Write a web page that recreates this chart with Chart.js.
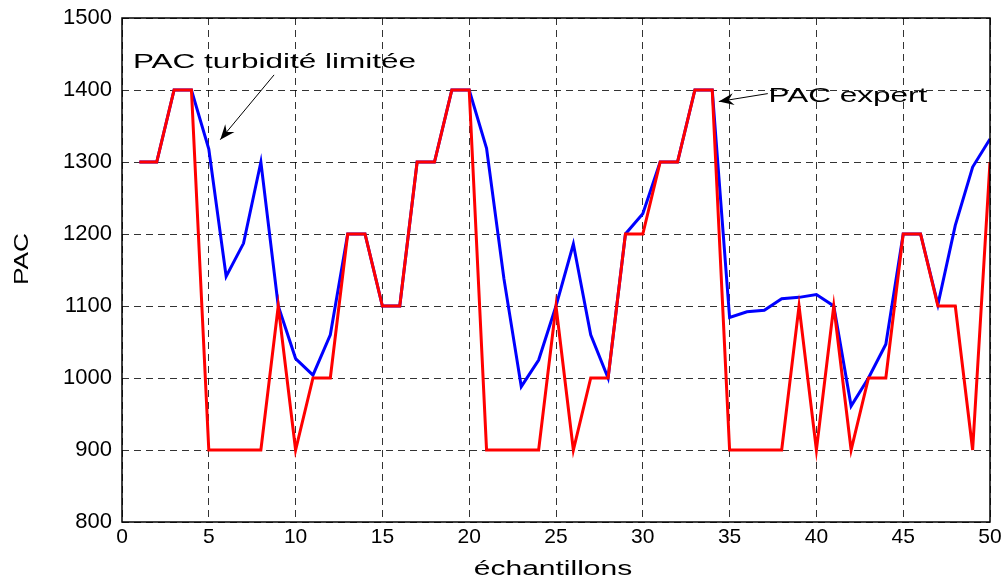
<!DOCTYPE html>
<html>
<head>
<meta charset="utf-8">
<script src="https://cdn.jsdelivr.net/npm/chart.js@4.4.1/dist/chart.umd.min.js"></script>
<style>
  html, body { margin: 0; padding: 0; background: #fff; }
</style>
</head>
<body>
<canvas id="pacchart" width="1007" height="579"></canvas>
<script>
// données
const samples = [1, 2, 3, 4, 5, 6, 7, 8, 9, 10, 11, 12, 13, 14, 15, 16, 17, 18, 19, 20,
  21, 22, 23, 24, 25, 26, 27, 28, 29, 30, 31, 32, 33, 34, 35, 36, 37, 38, 39, 40,
  41, 42, 43, 44, 45, 46, 47, 48, 49, 50];

const pacTurbidite = [1300, 1300, 1400, 1400, 1318, 1141, 1187, 1300, 1100, 1027,
  1004, 1060, 1200, 1200, 1100, 1100, 1300, 1300, 1400, 1400,
  1319, 1138, 988, 1025, 1100, 1186, 1060, 1000, 1200, 1228,
  1300, 1300, 1400, 1400, 1084, 1092, 1094, 1110, 1112, 1116,
  1100, 961, 1000, 1047, 1200, 1200, 1102, 1212, 1293, 1332];

const pacExpert = [1300, 1300, 1400, 1400, 900, 900, 900, 900, 1100, 900,
  1000, 1000, 1200, 1200, 1100, 1100, 1300, 1300, 1400, 1400,
  900, 900, 900, 900, 1100, 900, 1000, 1000, 1200, 1200,
  1300, 1300, 1400, 1400, 900, 900, 900, 900, 1100, 900,
  1100, 900, 1000, 1000, 1200, 1200, 1100, 1100, 900, 1300];

const xTicks = [0, 5, 10, 15, 20, 25, 30, 35, 40, 45, 50];
const yTicks = [800, 900, 1000, 1100, 1200, 1300, 1400, 1500];

// annotations (texte + flèche), en coordonnées des axes
const notes = [
  { text: "PAC turbidité limitée", at: [0.63, 1431], from: [8.76, 1421], to: [5.66, 1331] },
  { text: "PAC expert", at: [37.24, 1384], from: [37.2, 1395], to: [34.38, 1384] },
];

const FONT = "Arial, 'Liberation Sans', sans-serif";

function toPoints(ys) {
  return samples.map((x, i) => ({ x: x, y: ys[i] }));
}

// texte étiré horizontalement (la figure d'origine est élargie)
function wideText(ctx, text, x, y, size, sx, align, angle) {
  ctx.save();
  ctx.translate(x, y);
  if (angle) ctx.rotate(angle);
  ctx.scale(sx, 1);
  ctx.font = size + "px " + FONT;
  ctx.fillStyle = "#000";
  ctx.textAlign = align;
  ctx.textBaseline = "alphabetic";
  ctx.fillText(text, 0, 0);
  ctx.restore();
}

function arrow(ctx, x1, y1, x2, y2) {
  ctx.save();
  ctx.strokeStyle = "#000";
  ctx.fillStyle = "#000";
  ctx.lineWidth = 1;
  ctx.beginPath();
  ctx.moveTo(x1, y1);
  ctx.lineTo(x2, y2);
  ctx.stroke();
  const a = Math.atan2(y2 - y1, x2 - x1);
  ctx.translate(x2, y2);
  ctx.rotate(a);
  ctx.beginPath();
  ctx.moveTo(0, 0);
  ctx.lineTo(-15, -6);
  ctx.lineTo(-10, 0);
  ctx.lineTo(-15, 6);
  ctx.closePath();
  ctx.fill();
  ctx.restore();
}

const matlabLook = {
  id: "matlabLook",
  afterDraw(chart) {
    const ctx = chart.ctx;
    const area = chart.chartArea;
    const xs = chart.scales.x, ys = chart.scales.y;

    // cadre
    ctx.save();
    ctx.strokeStyle = "#000";
    ctx.lineWidth = 1.5;
    ctx.strokeRect(area.left, area.top, area.right - area.left, area.bottom - area.top);
    ctx.restore();

    notes.forEach(n => {
      wideText(ctx, n.text, xs.getPixelForValue(n.at[0]), ys.getPixelForValue(n.at[1]), 21, 1.5, "left");
      arrow(ctx, xs.getPixelForValue(n.from[0]), ys.getPixelForValue(n.from[1]),
        xs.getPixelForValue(n.to[0]), ys.getPixelForValue(n.to[1]));
    });

    // titres des axes
    wideText(ctx, "échantillons", (area.left + area.right) / 2 - 3, 575, 20, 1.5, "center");
    wideText(ctx, "PAC", 28, (area.top + area.bottom) / 2 - 11, 21, 1.25, "center", -Math.PI / 2);
  }
};

const gridOpts = {
  color: "rgba(0,0,0,0.8)",
  lineWidth: 1,
  drawTicks: false,
};

const config = {
  type: "line",
  data: {
    datasets: [
      {
        label: "PAC expert",
        data: toPoints(pacExpert),
        borderColor: "#ff0000",
        borderWidth: 3,
        pointRadius: 0,
        tension: 0,
        order: 0, // au-dessus
      },
      {
        label: "PAC turbidité limitée",
        data: toPoints(pacTurbidite),
        borderColor: "#0000ff",
        borderWidth: 3,
        pointRadius: 0,
        tension: 0,
        order: 1,
      },
    ],
  },
  options: {
    responsive: false,
    animation: false,
    layout: { padding: { top: 18, right: 17, left: 0, bottom: 0 } },
    plugins: {
      legend: { display: false },
      tooltip: { enabled: false },
    },
    scales: {
      x: {
        type: "linear",
        min: xTicks[0],
        max: xTicks[xTicks.length - 1],
        ticks: {
          stepSize: xTicks[1] - xTicks[0],
          color: "#000",
          font: { family: FONT, size: 21 },
          padding: 3,
          maxRotation: 0,
          callback: (v) => String(v),
        },
        grid: gridOpts,
        border: { display: false, dash: [7, 5] },
        afterFit(scale) {
          scale.height = 57;
          scale.paddingLeft = 0;
          scale.paddingRight = 0;
        },
      },
      y: {
        min: yTicks[0],
        max: yTicks[yTicks.length - 1],
        ticks: {
          stepSize: yTicks[1] - yTicks[0],
          color: "#000",
          font: { family: FONT, size: 22 },
          padding: 10,
          callback: (v) => String(v),
        },
        grid: gridOpts,
        border: { display: false, dash: [7, 5] },
        afterFit(scale) {
          scale.width = 122;
          scale.paddingTop = 0;
          scale.paddingBottom = 0;
        },
      },
    },
  },
  plugins: [matlabLook],
};

const el = document.getElementById("pacchart");
if (el) {
  new Chart(el.getContext("2d"), config);
}
</script>
</body>
</html>
